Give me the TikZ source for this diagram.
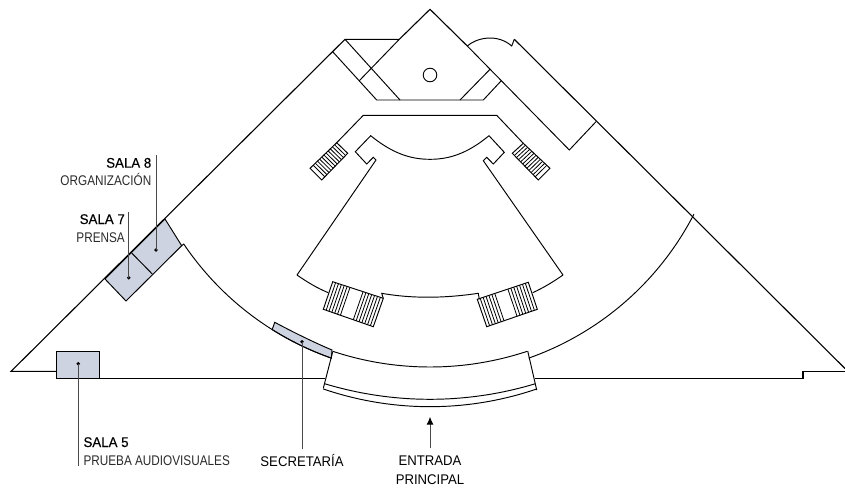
\documentclass[tikz,border=0pt]{standalone}
\usepackage{fontspec}
\setmainfont[FakeStretch=0.84]{Liberation Sans}
\newfontfamily\titlefont[FakeStretch=0.95,FakeBold=0.3]{Liberation Sans}
\newfontfamily\widefont[FakeStretch=0.94]{Liberation Sans}
\usetikzlibrary{calc,arrows.meta}
\definecolor{roomfill}{HTML}{CDD3E1}
\definecolor{subtext}{HTML}{2A2A2A}
\definecolor{leader}{HTML}{4A4A4A}
\tikzset{
  plan/.style={line width=0.95pt,black,line join=miter},
  wall/.style={line width=1.1pt,black,line join=miter},
  room/.style={plan,fill=roomfill},
  hatch/.style={line width=0.8pt,black},
  leaderline/.style={line width=1pt,leader},
  dotmark/.style={circle,fill=black,inner sep=0pt,minimum size=3.8pt},
  titlelabel/.style={inner sep=0pt,font=\titlefont\fontsize{14}{16}\selectfont,text=black},
  sublabel/.style={inner sep=0pt,font=\fontsize{14}{16}\selectfont,text=subtext},
  widelabel/.style={inner sep=0pt,font=\widefont\fontsize{14}{16}\selectfont,text=black},
}
\begin{document}
\begin{tikzpicture}[x=1pt,y=-1pt]
\useasboundingbox (0,0) rectangle (845,491);
% rooms
\draw[room] (56.7,351.7) rectangle (99.3,378.7);
\draw[room] (165,219) -- (181.7,245.7) -- (126,301) -- (105,279) -- cycle;
\draw[plan] (131,252.3) -- (152.3,274);
\draw[room] (274.7,322.3) .. controls (293,332) and (313,342) .. (332,350) -- plot[domain=109.4:122.1,samples=20] ({430+297*cos(\x)},{78+297*sin(\x)}) -- cycle;
% outer walls
\draw[wall] (56.7,371.4) -- (11,371.4) -- (345,39.3) -- (399.3,39.3);
\draw[wall] (399.3,39.3) -- (430,9.3) -- (467.3,46);
\draw[wall] (56.7,378.9) -- (325,378.9);
\draw[wall] (535,378.9) -- (803,378.9) -- (803,371.6) -- (845,371.6);
\draw[wall] (514.3,39.3) -- (845,368.5);
\draw[plan] (467.3,46) .. controls (476,38) and (497,33) .. (511.7,46) -- (514.3,39.3);
% entry block at the top
\draw[plan] (399.3,39.3) -- (359.3,80.7);
\draw[plan] (345,39.3) -- (400,100);
\draw[plan] (332.5,51.5) -- (376.7,100) -- (483.3,100) -- (501,81);
\draw[plan] (460,100) -- (490,69.3);
\draw[plan] (467.3,46) -- (569.3,150) -- (596,121.7);
\node[circle,draw=black,line width=0.9pt,minimum size=13.6pt,inner sep=0pt] (pillar) at (430,75) {};
% stage
\draw[plan] (336.7,142.7) -- (363.3,115.3) -- (496.7,115.3) -- (523.3,143.3);
\draw[plan] (297,275) -- (376,160) -- (373.3,157.3) -- (366.7,164) -- (355.3,151.7) -- (370.7,135.7)
  .. controls (392,153) and (410,159.3) .. (430,159.3)
  .. controls (450,159.3) and (468,153) .. (489,135.7)
  -- (504.3,152.3) -- (493.3,164) -- (486.7,157.3) -- (483.3,160.7) -- (563,275);
\draw[plan] (297,275) .. controls (307,282) and (317,288) .. (328.3,292.7);
\draw[plan] (563,275) .. controls (553,282) and (543,288) .. (532.7,292.7);
\draw[plan] (383.3,298.3) -- (381.7,293.3) .. controls (408,298) and (440,299) .. (478.3,293.3) -- (479.3,299.3);
% small stairs
\coordinate (la) at (336.7,142.7); \coordinate (lb) at (347.7,153.3);
\coordinate (lc) at (321.7,180);   \coordinate (ld) at (310,168.3);
\draw[plan] (la) -- (lb) -- (lc) -- (ld) -- cycle;
\foreach \t in {0.08,0.16,...,0.95} \draw[hatch] ($(la)!\t!(ld)$) -- ($(lb)!\t!(lc)$);
\coordinate (ra) at (523.3,143.3); \coordinate (rb) at (512.3,153.3);
\coordinate (rc) at (538.3,180);   \coordinate (rd) at (550,168.3);
\draw[plan] (ra) -- (rb) -- (rc) -- (rd) -- cycle;
\foreach \t in {0.08,0.16,...,0.95} \draw[hatch] ($(ra)!\t!(rd)$) -- ($(rb)!\t!(rc)$);
% large stairs
\coordinate (pa) at (332.7,281.7); \coordinate (pb) at (383.3,298.3);
\coordinate (pc) at (373.3,326.7); \coordinate (pd) at (323.3,309.3);
\draw[plan] (pa) -- (pb) -- (pc) -- (pd) -- cycle;
\foreach \t in {0.057,0.114,...,0.35,0.6,0.657,...,0.97} \draw[hatch] ($(pa)!\t!(pb)$) -- ($(pd)!\t!(pc)$);
\coordinate (qa) at (477.3,299.3); \coordinate (qb) at (528.3,282.3);
\coordinate (qc) at (537.3,309.3); \coordinate (qd) at (486.7,326.7);
\draw[plan] (qa) -- (qb) -- (qc) -- (qd) -- cycle;
\foreach \t in {0.057,0.114,...,0.35,0.6,0.657,...,0.97} \draw[hatch] ($(qa)!\t!(qb)$) -- ($(qd)!\t!(qc)$);
% hall arc
\draw[plan] (181.7,245.7) -- plot[domain=146:109.4,samples=40] ({430+297*cos(\x)},{78+297*sin(\x)});
\draw[plan] plot[domain=70.6:27.3,samples=40] ({430+297*cos(\x)},{78+297*sin(\x)});
% main entrance
\draw[plan] plot[domain=108.35:71.65,samples=40] ({430+309*cos(\x)},{58+309*sin(\x)});
\draw[plan] plot[domain=106.8:73.2,samples=40] ({430+364*cos(\x)},{35.3+364*sin(\x)});
\draw[plan] plot[domain=108.9:71.1,samples=40] ({430+330*cos(\x)},{76.7+330*sin(\x)});
\draw[plan] (332.7,351.7) -- (323.3,388.3);
\draw[plan] (527.7,351) -- (536.7,390);
% labels
\node[titlelabel,anchor=base east] (s8) at (151.5,167.7) {SALA 8};
\node[sublabel,anchor=base east] (s8b) at (151.5,185.7) {ORGANIZACIÓN};
\node[titlelabel,anchor=base east] (s7) at (125,224) {SALA 7};
\node[sublabel,anchor=base east] (s7b) at (125,242.7) {PRENSA};
\node[titlelabel,anchor=base west] (s5) at (83.3,447) {SALA 5};
\node[sublabel,anchor=base west] (s5b) at (83.3,465.7) {PRUEBA AUDIOVISUALES};
\node[widelabel,anchor=base] (sec) at (302,466.7) {SECRETARÍA};
\node[widelabel,anchor=base] (ent) at (430,465.7) {ENTRADA};
\node[widelabel,anchor=base] (pri) at (430,484.3) {PRINCIPAL};
% leaders
\node[dotmark] (d8) at (156,250) {};
\node[dotmark] (d7) at (128.7,277.7) {};
\node[dotmark] (d5) at (78.3,363.7) {};
\node[dotmark] (dsec) at (302,341.7) {};
\coordinate (l8) at (156,155);
\coordinate (l7) at (128.7,211.7);
\coordinate (l5) at (78.3,466);
\coordinate (lsec) at (302,449.3);
\coordinate (ar0) at (430,448.3);
\coordinate (ar1) at (430,416.7);
\draw[leaderline] (l8) -- (d8.center);
\draw[leaderline] (l7) -- (d7.center);
\draw[leaderline] (l5) -- (d5.center);
\draw[leaderline] (lsec) -- (dsec.center);
\draw[leaderline,-{Latex[length=8pt,width=7pt,black]}] (ar0) -- (ar1);
\end{tikzpicture}
\end{document}
